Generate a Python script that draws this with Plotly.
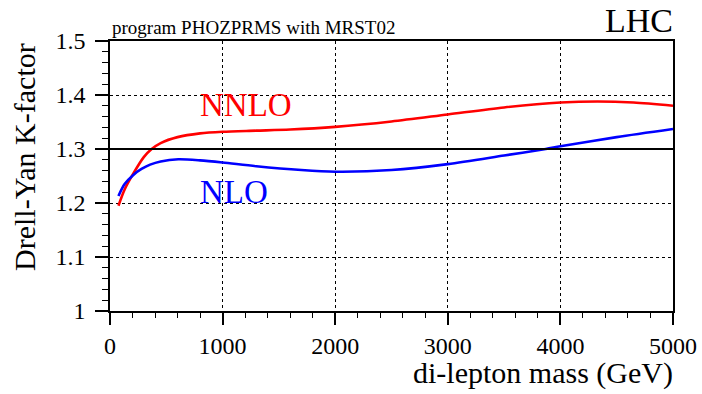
import plotly.graph_objects as go

mass_nnlo = [75, 130, 200, 300, 370, 450, 600, 800, 1000, 1300, 1600, 2000, 2500, 3000, 3500, 4000, 4330, 4650, 5000]
k_nnlo = [1.195, 1.225, 1.252, 1.285, 1.300, 1.311, 1.322, 1.329, 1.332, 1.334, 1.336, 1.341, 1.351, 1.364, 1.377, 1.386, 1.388, 1.386, 1.380]

mass_nlo = [75, 130, 207, 280, 356, 450, 607, 800, 1000, 1300, 1700, 2000, 2500, 3000, 3500, 3870, 4000, 4500, 5000]
k_nlo = [1.213, 1.235, 1.252, 1.263, 1.271, 1.277, 1.281, 1.279, 1.275, 1.268, 1.261, 1.258, 1.261, 1.272, 1.288, 1.300, 1.305, 1.322, 1.337]

ref_level = 1.3
x_ticks = [0, 1000, 2000, 3000, 4000, 5000]
y_ticks = [1, 1.1, 1.2, 1.3, 1.4, 1.5]
y_tick_text = ["1", "1.1", "1.2", "1.3", "1.4", "1.5"]

FONT = "Liberation Serif, serif"

fig = go.Figure()
fig.add_trace(go.Scatter(x=mass_nnlo, y=k_nnlo, mode="lines",
                         line=dict(color="#ff0000", width=2.6, shape="spline", smoothing=0.8),
                         showlegend=False, hoverinfo="skip"))
fig.add_trace(go.Scatter(x=mass_nlo, y=k_nlo, mode="lines",
                         line=dict(color="#0000ff", width=2.6, shape="spline", smoothing=0.8),
                         showlegend=False, hoverinfo="skip"))

fig.add_shape(type="line", xref="paper", yref="y", x0=0, x1=1, y0=ref_level, y1=ref_level,
              line=dict(color="black", width=2))

L, R, T, B = 110, 29, 41, 83
W, H = 702, 394
pw, ph = W - L - R, H - T - B

def px(p):
    return (p - L) / pw

def py(p):
    return (H - B - p) / ph

fig.update_layout(
    template="none",
    width=W, height=H,
    margin=dict(l=L, r=R, t=T, b=B, pad=0, autoexpand=False),
    paper_bgcolor="white", plot_bgcolor="white",
    font=dict(family=FONT, color="black", size=24),
    xaxis=dict(range=[0, 5000], tickvals=x_ticks, ticks="outside", ticklen=12, tickwidth=1.5,
               tickcolor="black", showline=True, linecolor="black", linewidth=1.5, mirror=True,
               showgrid=True, gridcolor="black", griddash="dot", gridwidth=1, automargin=False,
               tickfont=dict(size=24, family=FONT, color="black"), zeroline=False,
               minor=dict(dtick=200, ticks="outside", ticklen=5, tickcolor="black", tickwidth=1, showgrid=False)),
    yaxis=dict(range=[1, 1.5], tickvals=y_ticks, ticktext=y_tick_text, ticks="outside", ticklen=13, tickwidth=1.5,
               tickcolor="black", showline=True, linecolor="black", linewidth=1.5, mirror=True,
               showgrid=True, gridcolor="black", griddash="dot", gridwidth=1, automargin=False,
               tickfont=dict(size=24, family=FONT, color="black"), zeroline=False, ticklabelstandoff=5,
               minor=dict(dtick=0.02, tick0=1, ticks="outside", ticklen=6, tickcolor="black", tickwidth=1, showgrid=False)),
)

annos = [
    dict(text="program PHOZPRMS with MRST02", x=px(111), y=py(27), xanchor="left", yanchor="middle",
         font=dict(size=19, family=FONT, color="black")),
    dict(text="LHC", x=px(674), y=py(20), xanchor="right", yanchor="middle",
         font=dict(size=34, family=FONT, color="black")),
    dict(text="di-lepton mass (GeV)", x=px(674), y=py(373), xanchor="right", yanchor="middle",
         font=dict(size=30, family=FONT, color="black")),
    dict(text="Drell-Yan K-factor", x=px(24), y=py(157), xanchor="center", yanchor="middle", textangle=-90,
         font=dict(size=30, family=FONT, color="black")),
    dict(text="NNLO", x=px(199), y=py(105), xanchor="left", yanchor="middle",
         font=dict(size=33, family=FONT, color="#ff0000")),
    dict(text="NLO", x=px(199), y=py(192), xanchor="left", yanchor="middle",
         font=dict(size=33, family=FONT, color="#0000ff")),
]
for a in annos:
    fig.add_annotation(xref="paper", yref="paper", showarrow=False, borderpad=0, **a)

js = """
document.body.style.margin='0';
var st = document.createElement('style');
st.textContent = '.xtick text, .ytick text { font-family: "Liberation Serif", serif !important; }';
document.head.appendChild(st);
"""
fig.write_html("out.html", config={"displayModeBar": False}, post_script=js)
